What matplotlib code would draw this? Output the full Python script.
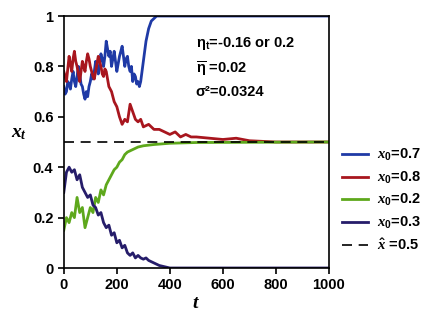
import matplotlib.pyplot as plt

plt.rcParams['font.family'] = ['Liberation Sans', 'DejaVu Sans']
plt.rcParams['font.weight'] = 'bold'
plt.rcParams['mathtext.fontset'] = 'custom'
plt.rcParams['mathtext.rm'] = 'Liberation Sans:bold'
plt.rcParams['mathtext.bf'] = 'Liberation Sans:bold'
plt.rcParams['mathtext.it'] = 'Liberation Serif:italic:bold'

# x0 = 0.7 (blue) -> fixes at 1
t_blue = [0, 5, 10, 15, 20, 25, 30, 35, 40, 45, 50, 55, 60, 65, 70, 75, 80, 85, 90,
          95, 100, 105, 110, 115, 120, 125, 130, 135, 140, 145, 150, 155, 160, 165,
          170, 175, 180, 185, 190, 195, 200, 205, 210, 215, 220, 225, 230, 235, 240,
          245, 250, 255, 260, 265, 270, 275, 280, 285, 290, 300, 310, 320, 330, 340,
          350, 400, 600, 800, 1000]
x_blue = [0.72, 0.69, 0.70, 0.74, 0.73, 0.71, 0.75, 0.78, 0.74, 0.72, 0.76, 0.80, 0.77,
          0.73, 0.72, 0.69, 0.67, 0.70, 0.68, 0.72, 0.74, 0.77, 0.75, 0.78, 0.82, 0.79,
          0.77, 0.81, 0.85, 0.83, 0.80, 0.84, 0.90, 0.87, 0.84, 0.86, 0.80, 0.83, 0.86,
          0.82, 0.78, 0.81, 0.84, 0.86, 0.88, 0.84, 0.80, 0.83, 0.84, 0.80, 0.78, 0.80,
          0.74, 0.77, 0.76, 0.73, 0.74, 0.72, 0.74, 0.82, 0.90, 0.95, 0.98, 0.99,
          1.0, 1.0, 1.0, 1.0, 1.0]

# x0 = 0.8 (red) -> goes to 0.5
t_red = [0, 5, 10, 15, 20, 25, 30, 35, 40, 45, 50, 55, 60, 65, 70, 75, 80, 85, 90,
         95, 100, 105, 110, 115, 120, 125, 130, 135, 140, 145, 150, 155, 160, 170,
         180, 190, 200, 210, 220, 230, 240, 250, 260, 270, 280, 290, 300, 320,
         340, 360, 380, 400, 420, 440, 460, 480, 500, 550, 600, 650, 700, 800, 1000]
x_red = [0.78, 0.76, 0.74, 0.79, 0.84, 0.81, 0.78, 0.83, 0.86, 0.82, 0.80, 0.77, 0.74,
         0.78, 0.82, 0.80, 0.78, 0.82, 0.85, 0.83, 0.80, 0.78, 0.76, 0.75, 0.78, 0.81,
         0.84, 0.82, 0.80, 0.77, 0.76, 0.79, 0.78, 0.72, 0.70, 0.66, 0.64, 0.60,
         0.57, 0.59, 0.58, 0.65, 0.62, 0.59, 0.58, 0.59, 0.56, 0.57, 0.55, 0.55,
         0.54, 0.53, 0.54, 0.52, 0.53, 0.52, 0.52, 0.515, 0.51, 0.515, 0.505, 0.5, 0.5]

# x0 = 0.2 (green) -> goes to 0.5
t_green = [0, 10, 20, 30, 40, 50, 60, 70, 80, 90, 100, 110, 120, 130, 140, 150, 160,
           170, 180, 190, 200, 210, 220, 230, 240, 250, 260, 280, 300, 340, 400, 500, 1000]
x_green = [0.15, 0.20, 0.18, 0.22, 0.20, 0.28, 0.22, 0.24, 0.16, 0.20, 0.24, 0.22, 0.28,
           0.26, 0.31, 0.29, 0.33, 0.35, 0.37, 0.39, 0.40, 0.42, 0.43, 0.45, 0.46, 0.465,
           0.47, 0.48, 0.485, 0.49, 0.495, 0.498, 0.5]

# x0 = 0.3 (navy) -> fixes at 0
t_navy = [0, 10, 20, 30, 40, 50, 60, 70, 80, 90, 100, 110, 120, 130, 140, 150, 160,
          170, 180, 190, 200, 210, 220, 230, 240, 250, 260, 270, 280, 290, 300, 310,
          320, 340, 360, 380, 400, 1000]
x_navy = [0.30, 0.38, 0.40, 0.38, 0.39, 0.35, 0.37, 0.32, 0.30, 0.28, 0.29, 0.25, 0.24,
          0.21, 0.22, 0.18, 0.16, 0.17, 0.13, 0.14, 0.10, 0.11, 0.08, 0.09, 0.06, 0.05,
          0.06, 0.04, 0.05, 0.04, 0.035, 0.04, 0.03, 0.02, 0.01, 0.005, 0.0, 0.0]

x_hat = 0.5

fig = plt.figure(figsize=(4.34, 3.2), dpi=100)
ax = fig.add_axes([0.147, 0.1625, 0.611, 0.7875])

ax.plot(t_blue, x_blue, color='#1f3aa6', lw=2, label=r'$x_0$=0.7')
ax.plot(t_red, x_red, color='#a8161e', lw=2, label=r'$x_0$=0.8')
ax.plot(t_green, x_green, color='#5ea81c', lw=2, label=r'$x_0$=0.2')
ax.plot(t_navy, x_navy, color='#261d6a', lw=2, label=r'$x_0$=0.3')
ax.axhline(x_hat, color='black', lw=1.2, ls=(0, (6, 4)), label=r'$\hat{x}$ =0.5')

ax.set_xlim(0, 1000)
ax.set_ylim(0, 1)
ax.set_xticks([0, 200, 400, 600, 800, 1000])
ax.set_yticks([0, 0.2, 0.4, 0.6, 0.8, 1])
ax.set_yticklabels(['0', '0.2', '0.4', '0.6', '0.8', '1'])
ax.tick_params(labelsize=10.5, direction='out', length=4, width=1.2)
for s in ax.spines.values():
    s.set_linewidth(1.2)

ax.set_ylabel(r'$x_t$', fontsize=14, rotation=0, labelpad=14)
ax.yaxis.set_label_coords(-0.17, 0.5)
ax.set_xlabel(r'$t$', fontsize=14, labelpad=2)

ax.text(498, 0.89, 'η$_\\mathrm{t}$=-0.16 or 0.2', fontsize=10.5, va='center')
ax.text(498, 0.79, r'$\overline{\mathrm{\eta}}$ =0.02', fontsize=10.5, va='center')
ax.text(498, 0.70, 'σ²=0.0324', fontsize=10.5, va='center')

ax.legend(loc='center left', bbox_to_anchor=(1.0, 0.27), frameon=False,
          fontsize=10.5, handlelength=1.8, handletextpad=0.6, labelspacing=0.45)

fig.savefig('out.png', dpi=100)
